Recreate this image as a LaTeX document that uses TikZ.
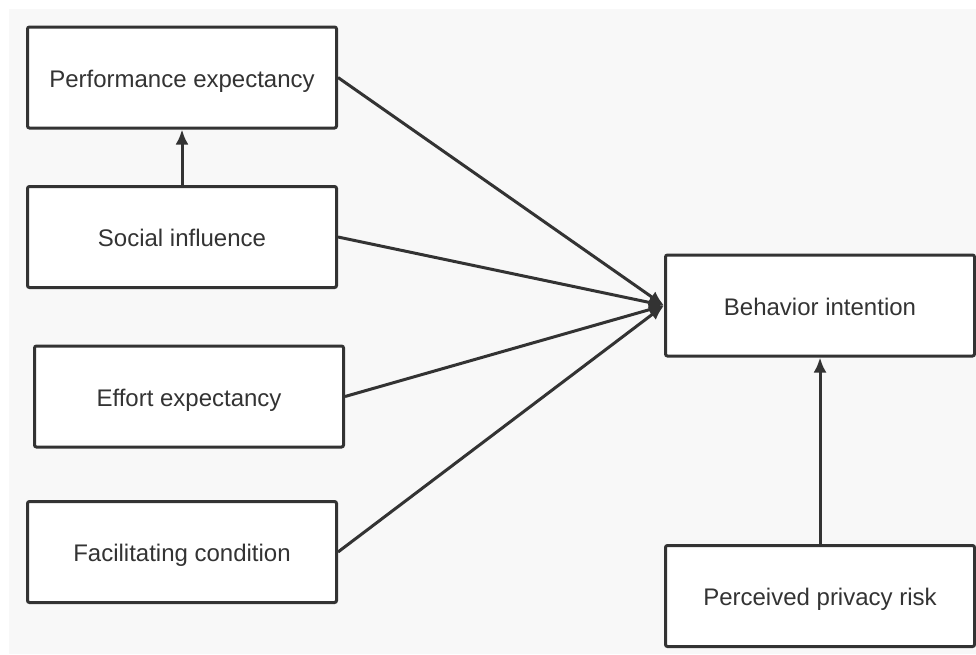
\documentclass[tikz,border=0pt]{standalone}
\usepackage{fontspec}
\setmainfont{Liberation Sans}
\usepackage{tikz}
\usetikzlibrary{arrows.meta,positioning}

\definecolor{inkgray}{HTML}{333333}
\definecolor{pagegray}{HTML}{F8F8F8}

\begin{document}
\begin{tikzpicture}[x=1pt,y=-1pt,
    factor/.style={draw=inkgray, fill=white, line width=3pt, rounded corners=2pt,
        minimum width=309pt, minimum height=101pt, text=inkgray,
        text height=22pt, text depth=3pt,
        font=\fontsize{24}{29}\selectfont},
    link/.style={draw=inkgray, line width=3pt, -{Latex[length=15pt,width=13pt]}}]
        \useasboundingbox (0,0) rectangle (976,654);
        \fill[pagegray] (9,9) rectangle (976,654);
        % factors on the left
        \node[factor] (perf) at (182,77.5) {Performance expectancy};
        \node[factor] (social) at (182,237) {Social influence};
        \node[factor] (effort) at (189,396.5) {Effort expectancy};
        \node[factor] (facil) at (182,552) {Facilitating condition};
        % outcome and risk
        \node[factor] (intent) at (820,305.5) {Behavior intention};
        \node[factor] (risk) at (820,596) {Perceived privacy risk};
        \draw[link] (social) -- (perf);
        \draw[link] (perf.east) -- (intent.west);
        \draw[link] (social.east) -- (intent.west);
        \draw[link] (effort.east) -- (intent.west);
        \draw[link] (facil.east) -- (intent.west);
        \draw[link] (risk) -- (intent);
    \end{tikzpicture}
\end{document}
